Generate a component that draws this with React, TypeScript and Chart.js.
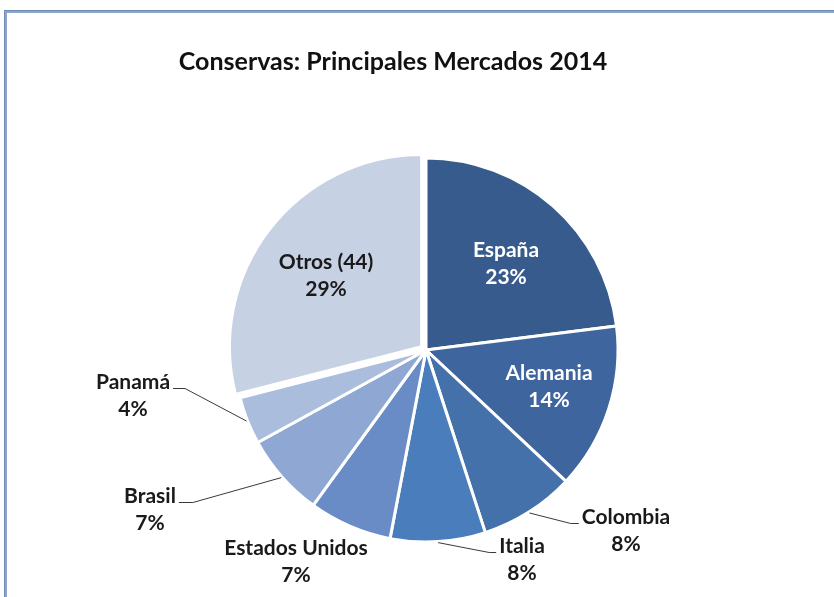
import React, { useEffect, useRef } from 'react';
import { Chart, registerables } from 'chart.js';

Chart.register(...registerables);

const chartTitle = 'Conservas: Principales Mercados 2014';
const categories = ['España', 'Alemania', 'Colombia', 'Italia', 'Estados Unidos', 'Brasil', 'Panamá', 'Otros (44)'];
const shares = [23, 14, 8, 8, 7, 7, 4, 29];
const sliceColors = ['#375b8d', '#3e659e', '#4471aa', '#4a7dbb', '#6a8cc6', '#8ea8d3', '#abbddc', '#c7d1e4'];
const labelColors = ['#ffffff', '#ffffff', '#1a1a1a', '#1a1a1a', '#1a1a1a', '#1a1a1a', '#1a1a1a', '#1a1a1a'];
const sliceOffsets = [0, 0, 0, 0, 0, 0, 0, 22];

// label block centre relative to the pie centre, and leader line style
const labelPlacement = [
  { dx: 80, dy: -86, leader: null, elbow: 0 },
  { dx: 123, dy: 37, leader: null, elbow: 0 },
  { dx: 200, dy: 181, leader: 'right', elbow: 11 },
  { dx: 96, dy: 210, leader: 'right', elbow: 10 },
  { dx: -130, dy: 212, leader: null, elbow: 0 },
  { dx: -276, dy: 160, leader: 'left', elbow: 17 },
  { dx: -293, dy: 46, leader: 'left', elbow: 15 },
  { dx: -100, dy: -74, leader: null, elbow: 0 },
];

const FONT = 'Lato, "Open Sans", sans-serif';
const LABEL_FONT = `bold 21px ${FONT}`;
const TITLE_FONT = `bold 25px ${FONT}`;
const LINE_GAP = 27;

const framePlugin = {
  id: 'frame',
  beforeDraw(chart: any) {
    const { ctx, width, height } = chart;
    ctx.save();
    ctx.fillStyle = '#ffffff';
    ctx.fillRect(0, 0, width, height);
    ctx.fillStyle = '#8da5c9';
    ctx.fillRect(4, 10, width - 4, 3);
    ctx.fillRect(4, 10, 3, height - 10);
    ctx.fillStyle = '#6f8bb8';
    ctx.fillRect(4, 10, width - 4, 1);
    ctx.fillRect(4, 10, 1, height - 10);
    ctx.restore();
  },
};

const titlePlugin = {
  id: 'customTitle',
  afterDraw(chart: any) {
    const { ctx, width } = chart;
    ctx.save();
    ctx.font = TITLE_FONT;
    ctx.fillStyle = '#111111';
    ctx.textAlign = 'center';
    ctx.textBaseline = 'middle';
    ctx.fillText(chartTitle, width / 2 - 24, 62);
    ctx.restore();
  },
};

const labelPlugin = {
  id: 'sliceLabels',
  afterDatasetsDraw(chart: any) {
    const { ctx } = chart;
    const meta = chart.getDatasetMeta(0);
    ctx.save();
    ctx.font = LABEL_FONT;
    ctx.textAlign = 'center';
    ctx.textBaseline = 'middle';
    meta.data.forEach((arc: any, i: number) => {
      const { x, y, startAngle, endAngle, outerRadius } = arc.getProps(['x', 'y', 'startAngle', 'endAngle', 'outerRadius'], true);
      const p = labelPlacement[i];
      const cx = x + p.dx;
      const cy = y + p.dy;
      const line1 = categories[i];
      const line2 = `${shares[i]}%`;
      const y1 = cy - LINE_GAP / 2;
      const y2 = cy + LINE_GAP / 2;
      if (p.leader) {
        const mid = (startAngle + endAngle) / 2;
        const sx = x + Math.cos(mid) * (outerRadius + 1);
        const sy = y + Math.sin(mid) * (outerRadius + 1);
        const w = ctx.measureText(line1).width;
        const ly = y1 + 6;
        let ex: number, bx: number;
        if (p.leader === 'right') {
          const left = cx - w / 2;
          ex = left - 3;
          bx = left - p.elbow;
        } else {
          const right = cx + w / 2;
          ex = right + 3;
          bx = right + p.elbow;
        }
        ctx.strokeStyle = '#3a3a3a';
        ctx.lineWidth = 1;
        ctx.beginPath();
        ctx.moveTo(sx, sy);
        ctx.lineTo(bx, ly);
        ctx.lineTo(ex, ly);
        ctx.stroke();
      }
      ctx.fillStyle = labelColors[i];
      ctx.fillText(line1, cx, y1);
      ctx.fillText(line2, cx, y2);
    });
    ctx.restore();
  },
};

export default function App() {
  const canvasRef = useRef<HTMLCanvasElement | null>(null);

  useEffect(() => {
    const canvas = canvasRef.current;
    if (!canvas) return;
    const chart = new Chart(canvas, {
      type: 'pie',
      data: {
        labels: categories,
        datasets: [
          {
            data: shares,
            backgroundColor: sliceColors,
            borderColor: '#ffffff',
            borderWidth: 3,
            offset: sliceOffsets,
          },
        ],
      },
      options: {
        responsive: false,
        animation: false,
        radius: 192,
        layout: { padding: { left: 38, right: 20, top: 150, bottom: 47 } },
        plugins: {
          legend: { display: false },
          title: { display: false },
          tooltip: { enabled: false },
        },
        events: [],
      } as any,
      plugins: [framePlugin, titlePlugin, labelPlugin],
    });
    return () => chart.destroy();
  }, []);

  return (
    <div style={{ position: 'fixed', left: 0, top: 0, width: 834, height: 597, background: '#fff' }}>
      <canvas ref={canvasRef} width={834} height={597} style={{ display: 'block' }} />
    </div>
  );
}
